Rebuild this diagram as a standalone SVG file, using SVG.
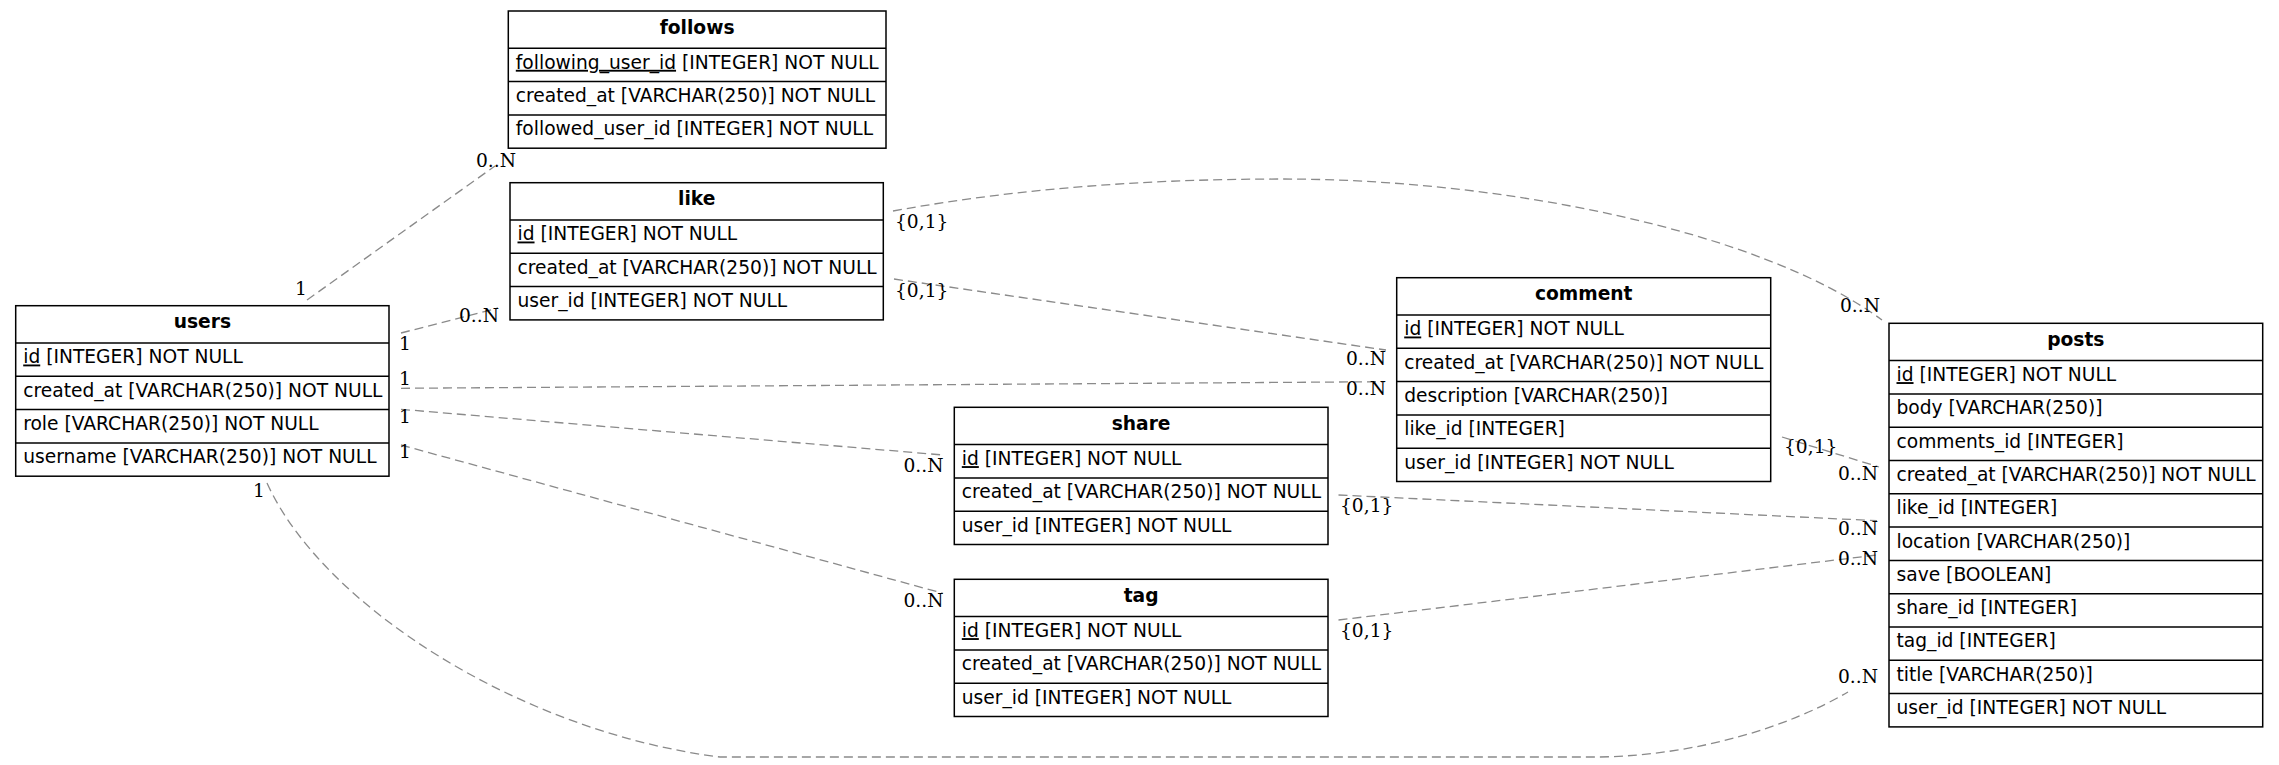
<svg xmlns="http://www.w3.org/2000/svg" width="2279" height="765" viewBox="0 0 2279 765">
  <style>
    .box { fill: #fff; stroke: #000; stroke-width: 1.5; }
    .sep { stroke: #000; stroke-width: 1.5; }
    .hdr { font-family: "DejaVu Sans", "Liberation Sans", sans-serif; font-size: 18.67px; font-weight: bold; text-anchor: middle; fill: #000; }
    .fld { font-family: "DejaVu Sans", "Liberation Sans", sans-serif; font-size: 18.67px; fill: #000; }
    .pk { text-decoration: underline; }
    .rel { fill: none; stroke: #8a8a8a; stroke-width: 1.3; stroke-dasharray: 9 5; }
    .card { font-family: "DejaVu Serif", "Liberation Serif", serif; font-size: 18.67px; fill: #000; }
  </style>
  <rect width="2279" height="765" fill="#fff"/>

  <!-- relationship lines -->
  <g id="connectors">
    <path class="rel" d="M307,300 L495,166"/>
    <path class="rel" d="M401,333 L498,308"/>
    <path class="rel" d="M401,388.3 L1385,381.7"/>
    <path class="rel" d="M401,409.3 L943,455"/>
    <path class="rel" d="M401,445 L943,593.3"/>
    <path class="rel" d="M267,483 C322,605 520,732 720,757 L1600,757 C1700,755 1790,726 1848,692"/>
    <path class="rel" d="M893,211 C1020,188 1150,179 1283,179 C1500,179 1760,230 1882,320"/>
    <path class="rel" d="M894,279 L1386,350"/>
    <path class="rel" d="M1782,437 L1879,467"/>
    <path class="rel" d="M1338.5,495 L1877,520.7"/>
    <path class="rel" d="M1338.5,620 L1877,555"/>

    <!-- cardinality labels -->
    <text class="card" x="295" y="295">1</text>
    <text class="card" x="476" y="167.3">0..N</text>
    <text class="card" x="399" y="350">1</text>
    <text class="card" x="459" y="321.7">0..N</text>
    <text class="card" x="399" y="385">1</text>
    <text class="card" x="1346" y="395">0..N</text>
    <text class="card" x="399" y="423.3">1</text>
    <text class="card" x="903.5" y="471.7">0..N</text>
    <text class="card" x="399" y="458.3">1</text>
    <text class="card" x="903.5" y="606.7">0..N</text>
    <text class="card" x="253" y="496.7">1</text>
    <text class="card" x="1838" y="683.3">0..N</text>
    <text class="card" x="895" y="228.3">{0,1}</text>
    <text class="card" x="1840" y="311.7">0..N</text>
    <text class="card" x="895" y="296.7">{0,1}</text>
    <text class="card" x="1346" y="365">0..N</text>
    <text class="card" x="1784" y="453.3">{0,1}</text>
    <text class="card" x="1838" y="480">0..N</text>
    <text class="card" x="1340" y="511.7">{0,1}</text>
    <text class="card" x="1838" y="535">0..N</text>
    <text class="card" x="1340" y="636.7">{0,1}</text>
    <text class="card" x="1838" y="565">0..N</text>
  </g>

  <!-- tables -->
  <g id="users" transform="translate(15.7,305.7)">
    <rect class="box" x="0" y="0" width="373.3" height="170.5"/>
    <line class="sep" x1="0" y1="37.3" x2="373.3" y2="37.3"/>
    <line class="sep" x1="0" y1="70.6" x2="373.3" y2="70.6"/>
    <line class="sep" x1="0" y1="103.9" x2="373.3" y2="103.9"/>
    <line class="sep" x1="0" y1="137.2" x2="373.3" y2="137.2"/>
    <text class="hdr" x="186.7" y="22.5">users</text>
    <text class="fld" x="7.5" y="57.8"><tspan class="pk">id</tspan> [INTEGER] NOT NULL</text>
    <text class="fld" x="7.5" y="91.1">created_at [VARCHAR(250)] NOT NULL</text>
    <text class="fld" x="7.5" y="124.4">role [VARCHAR(250)] NOT NULL</text>
    <text class="fld" x="7.5" y="157.7">username [VARCHAR(250)] NOT NULL</text>
  </g>

  <g id="follows" transform="translate(508.3,11)">
    <rect class="box" x="0" y="0" width="377.7" height="137.2"/>
    <line class="sep" x1="0" y1="37.3" x2="377.7" y2="37.3"/>
    <line class="sep" x1="0" y1="70.6" x2="377.7" y2="70.6"/>
    <line class="sep" x1="0" y1="103.9" x2="377.7" y2="103.9"/>
    <text class="hdr" x="188.8" y="22.5">follows</text>
    <text class="fld" x="7.5" y="57.8"><tspan class="pk">following_user_id</tspan> [INTEGER] NOT NULL</text>
    <text class="fld" x="7.5" y="91.1">created_at [VARCHAR(250)] NOT NULL</text>
    <text class="fld" x="7.5" y="124.4">followed_user_id [INTEGER] NOT NULL</text>
  </g>

  <g id="like" transform="translate(510,182.7)">
    <rect class="box" x="0" y="0" width="373.3" height="137.2"/>
    <line class="sep" x1="0" y1="37.3" x2="373.3" y2="37.3"/>
    <line class="sep" x1="0" y1="70.6" x2="373.3" y2="70.6"/>
    <line class="sep" x1="0" y1="103.9" x2="373.3" y2="103.9"/>
    <text class="hdr" x="186.7" y="22.5">like</text>
    <text class="fld" x="7.5" y="57.8"><tspan class="pk">id</tspan> [INTEGER] NOT NULL</text>
    <text class="fld" x="7.5" y="91.1">created_at [VARCHAR(250)] NOT NULL</text>
    <text class="fld" x="7.5" y="124.4">user_id [INTEGER] NOT NULL</text>
  </g>

  <g id="share" transform="translate(954.3,407.3)">
    <rect class="box" x="0" y="0" width="373.7" height="137.2"/>
    <line class="sep" x1="0" y1="37.3" x2="373.7" y2="37.3"/>
    <line class="sep" x1="0" y1="70.6" x2="373.7" y2="70.6"/>
    <line class="sep" x1="0" y1="103.9" x2="373.7" y2="103.9"/>
    <text class="hdr" x="186.8" y="22.5">share</text>
    <text class="fld" x="7.5" y="57.8"><tspan class="pk">id</tspan> [INTEGER] NOT NULL</text>
    <text class="fld" x="7.5" y="91.1">created_at [VARCHAR(250)] NOT NULL</text>
    <text class="fld" x="7.5" y="124.4">user_id [INTEGER] NOT NULL</text>
  </g>

  <g id="tag" transform="translate(954.3,579.3)">
    <rect class="box" x="0" y="0" width="373.7" height="137.2"/>
    <line class="sep" x1="0" y1="37.3" x2="373.7" y2="37.3"/>
    <line class="sep" x1="0" y1="70.6" x2="373.7" y2="70.6"/>
    <line class="sep" x1="0" y1="103.9" x2="373.7" y2="103.9"/>
    <text class="hdr" x="186.8" y="22.5">tag</text>
    <text class="fld" x="7.5" y="57.8"><tspan class="pk">id</tspan> [INTEGER] NOT NULL</text>
    <text class="fld" x="7.5" y="91.1">created_at [VARCHAR(250)] NOT NULL</text>
    <text class="fld" x="7.5" y="124.4">user_id [INTEGER] NOT NULL</text>
  </g>

  <g id="comment" transform="translate(1396.7,277.7)">
    <rect class="box" x="0" y="0" width="374" height="203.8"/>
    <line class="sep" x1="0" y1="37.3" x2="374" y2="37.3"/>
    <line class="sep" x1="0" y1="70.6" x2="374" y2="70.6"/>
    <line class="sep" x1="0" y1="103.9" x2="374" y2="103.9"/>
    <line class="sep" x1="0" y1="137.2" x2="374" y2="137.2"/>
    <line class="sep" x1="0" y1="170.5" x2="374" y2="170.5"/>
    <text class="hdr" x="187" y="22.5">comment</text>
    <text class="fld" x="7.5" y="57.8"><tspan class="pk">id</tspan> [INTEGER] NOT NULL</text>
    <text class="fld" x="7.5" y="91.1">created_at [VARCHAR(250)] NOT NULL</text>
    <text class="fld" x="7.5" y="124.4">description [VARCHAR(250)]</text>
    <text class="fld" x="7.5" y="157.7">like_id [INTEGER]</text>
    <text class="fld" x="7.5" y="191">user_id [INTEGER] NOT NULL</text>
  </g>

  <g id="posts" transform="translate(1889,323.3)">
    <rect class="box" x="0" y="0" width="373.7" height="403.6"/>
    <line class="sep" x1="0" y1="37.3" x2="373.7" y2="37.3"/>
    <line class="sep" x1="0" y1="70.6" x2="373.7" y2="70.6"/>
    <line class="sep" x1="0" y1="103.9" x2="373.7" y2="103.9"/>
    <line class="sep" x1="0" y1="137.2" x2="373.7" y2="137.2"/>
    <line class="sep" x1="0" y1="170.5" x2="373.7" y2="170.5"/>
    <line class="sep" x1="0" y1="203.8" x2="373.7" y2="203.8"/>
    <line class="sep" x1="0" y1="237.1" x2="373.7" y2="237.1"/>
    <line class="sep" x1="0" y1="270.4" x2="373.7" y2="270.4"/>
    <line class="sep" x1="0" y1="303.7" x2="373.7" y2="303.7"/>
    <line class="sep" x1="0" y1="337" x2="373.7" y2="337"/>
    <line class="sep" x1="0" y1="370.3" x2="373.7" y2="370.3"/>
    <text class="hdr" x="186.8" y="22.5">posts</text>
    <text class="fld" x="7.5" y="57.8"><tspan class="pk">id</tspan> [INTEGER] NOT NULL</text>
    <text class="fld" x="7.5" y="91.1">body [VARCHAR(250)]</text>
    <text class="fld" x="7.5" y="124.4">comments_id [INTEGER]</text>
    <text class="fld" x="7.5" y="157.7">created_at [VARCHAR(250)] NOT NULL</text>
    <text class="fld" x="7.5" y="191">like_id [INTEGER]</text>
    <text class="fld" x="7.5" y="224.3">location [VARCHAR(250)]</text>
    <text class="fld" x="7.5" y="257.6">save [BOOLEAN]</text>
    <text class="fld" x="7.5" y="290.9">share_id [INTEGER]</text>
    <text class="fld" x="7.5" y="324.2">tag_id [INTEGER]</text>
    <text class="fld" x="7.5" y="357.5">title [VARCHAR(250)]</text>
    <text class="fld" x="7.5" y="390.8">user_id [INTEGER] NOT NULL</text>
  </g>
</svg>
